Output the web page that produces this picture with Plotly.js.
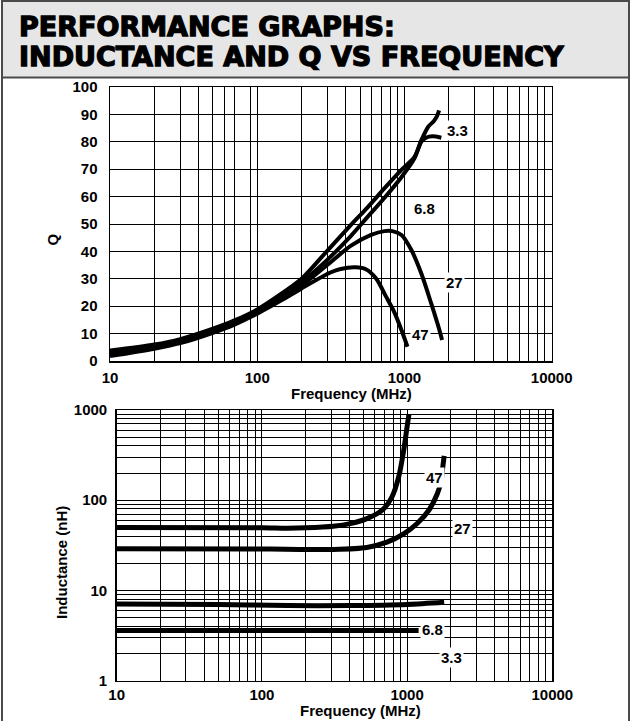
<!DOCTYPE html>
<html><head><meta charset="utf-8">
<script src="https://cdn.plot.ly/plotly-3.0.1.min.js"></script>
<style>html,body{margin:0;padding:0;background:#fff;overflow:hidden}#chart{width:631px;height:721px}</style>
</head><body><div id="chart"></div>
<script>
// ---------- Titles ----------
const titleLines = ["PERFORMANCE GRAPHS:", "INDUCTANCE AND Q VS FREQUENCY"];
const xTitle = "Frequency (MHz)";
const qTitle = "Q";
const lTitle = "Inductance (nH)";
const seriesNames = ["3.3", "6.8", "27", "47"];

// ---------- Q vs frequency (top chart) ----------
const qFreq_3_3 = [10, 20, 30, 50, 70, 100, 150, 200, 300, 430, 560, 730, 950, 1170, 1300, 1450, 1580, 1650, 1720];
const qVal_3_3  = [3.8, 6, 8, 11.8, 14.8, 18.8, 25, 30, 40.3, 49.5, 56, 63, 69.7, 74.5, 80.5, 85.5, 87.5, 89, 91.5];
const qFreq_6_8 = [10, 20, 30, 50, 70, 100, 150, 200, 300, 430, 560, 730, 950, 1170, 1300, 1400, 1550, 1780];
const qVal_6_8  = [3.2, 5.5, 7.5, 11.3, 14.3, 18.3, 24.2, 28.8, 37, 45.5, 52.5, 59.5, 67, 74, 80, 81.5, 82, 81.5];
const qFreq_27  = [10, 20, 30, 50, 70, 100, 150, 200, 314, 431, 593, 730, 828, 954, 1114, 1300, 1519, 1727, 1800];
const qVal_27   = [2.5, 5, 7, 10.8, 13.8, 17.8, 23.2, 27.5, 36, 42, 46, 47.4, 47.4, 46, 40.5, 32, 21, 11.3, 7.7];
const qFreq_47  = [10, 20, 30, 50, 70, 100, 150, 200, 314, 368, 466, 546, 640, 750, 860, 954, 1048];
const qVal_47   = [1.8, 4.5, 6.5, 10.3, 13.3, 17.3, 22.5, 26.5, 32.3, 33.6, 34.2, 33.5, 30.2, 23.5, 17.4, 11.3, 5.2];

// ---------- Inductance vs frequency (bottom chart) ----------
const lFreq_47  = [10, 100, 150, 200, 310, 405, 528, 671, 787, 875, 948, 1000, 1030];
const lVal_47   = [50, 49.5, 49, 49.5, 51.5, 55, 62.5, 77, 109, 181, 359, 653, 900];
const lFreq_27  = [10, 100, 182, 310, 528, 727, 947, 1173, 1411, 1614, 1720, 1750, 1800];
const lVal_27   = [29, 28.8, 28.5, 28.5, 30, 34.3, 42.3, 55.2, 77.4, 118, 167, 215, 310];
const lFreq_6_8 = [10, 50, 150, 400, 1000, 1800];
const lVal_6_8  = [7.1, 7.0, 6.8, 6.8, 7.0, 7.4];
const lFreq_3_3 = [10, 100, 500, 1200];
const lVal_3_3  = [3.6, 3.6, 3.6, 3.6];

// ---------- Grid / tick values ----------
const qGridFreq = [10,20,30,40,50,60,70,90,100,200,300,400,500,600,700,800,900,1000,2000,3000,4000,5000,6000,7000,8000,9000,10000];
const lGridFreq = [10,20,30,40,50,60,70,80,90,100,200,300,400,500,600,700,800,900,1000,2000,3000,4000,5000,6000,7000,8000,9000,10000];
const freqLabels = {10: "10", 100: "100", 1000: "1000", 10000: "10000"};
const qGridVals = [0,10,20,30,40,50,60,70,80,90,100];
const lGridVals = [1,2,3,4,5,6,7,8,9,10,20,30,40,50,60,70,80,90,100,200,300,400,500,600,700,800,900,1000];
const lLabels = {1: "1", 10: "10", 100: "100", 1000: "1000"};

// ---------- Layout helpers ----------
const W = 631, H = 721;
const px = x => x / W;
const py = y => 1 - y / H;
const FONT = "Liberation Sans, Arial, Helvetica, sans-serif";

function line(x, y, xa, ya, w) {
  return {x: x, y: y, xaxis: xa, yaxis: ya, type: "scatter", mode: "lines",
          line: {color: "#000", width: w, shape: "spline", smoothing: 0.8},
          hoverinfo: "skip", showlegend: false};
}

const traces = [
  line(qFreq_3_3, qVal_3_3, "x", "y", 4),
  line(qFreq_6_8, qVal_6_8, "x", "y", 4),
  line(qFreq_27, qVal_27, "x", "y", 4),
  line(qFreq_47, qVal_47, "x", "y", 4),
  line(lFreq_47, lVal_47, "x2", "y2", 5),
  line(lFreq_27, lVal_27, "x2", "y2", 5),
  line(lFreq_6_8, lVal_6_8, "x2", "y2", 5),
  line(lFreq_3_3, lVal_3_3, "x2", "y2", 5)
];

const tickFont = {family: FONT, size: 15, color: "#000", weight: "bold"};
const axisCommon = {
  showgrid: true, gridcolor: "#000", gridwidth: 1,
  showline: true, linecolor: "#000", linewidth: 1.5, mirror: true,
  ticks: "", zeroline: false, tickfont: tickFont, fixedrange: true
};

const annFont = {family: FONT, size: 15, color: "#000", weight: "bold"};
function lab(text, x, y, bg) {
  return {text: text, xref: "paper", yref: "paper", x: px(x), y: py(y),
          xanchor: "center", yanchor: "middle", showarrow: false,
          font: annFont, bgcolor: bg ? "#fff" : "rgba(0,0,0,0)", borderpad: bg ? 1 : 0};
}
function heavy(t) {
  return '<span style="stroke:#000;stroke-width:1.3px;paint-order:stroke">' + t + '</span>';
}

const annotations = [
  {text: heavy(titleLines[0]), xref: "paper", yref: "paper", x: px(17), y: py(27), xanchor: "left", yanchor: "middle",
   showarrow: false, font: {family: "DejaVu Sans", size: 27, color: "#000", weight: "bold"}},
  {text: heavy(titleLines[1]), xref: "paper", yref: "paper", x: px(17), y: py(57), xanchor: "left", yanchor: "middle",
   showarrow: false, font: {family: "DejaVu Sans", size: 27, color: "#000", weight: "bold"}},
  lab(xTitle, 351.5, 393.5, false),
  lab(xTitle, 360, 710.5, false),
  Object.assign(lab(qTitle, 51.5, 240, false), {textangle: -90}),
  Object.assign(lab(lTitle, 61.5, 562.5, false), {textangle: -90}),
  // top chart series labels
  lab(seriesNames[0], 457.5, 130, true),
  lab(seriesNames[1], 424.5, 208.5, true),
  lab(seriesNames[2], 454.5, 282.5, true),
  lab(seriesNames[3], 420.5, 334, true),
  // bottom chart series labels
  lab(seriesNames[3], 435, 477.5, true),
  lab(seriesNames[2], 462.5, 528.5, true),
  lab(seriesNames[1], 432.5, 629, true),
  lab(seriesNames[0], 451.5, 657.5, true)
];

const shapes = [
  {type: "rect", xref: "paper", yref: "paper", x0: px(2), x1: px(629), y0: py(77.5), y1: py(1),
   fillcolor: "#e6e6e6", line: {color: "#4a4a4a", width: 2}, layer: "below"},
  {type: "line", xref: "paper", yref: "paper", x0: px(2), x1: px(2), y0: py(77), y1: py(721),
   line: {color: "#4a4a4a", width: 2}},
  {type: "line", xref: "paper", yref: "paper", x0: px(629), x1: px(629), y0: py(77), y1: py(721),
   line: {color: "#4a4a4a", width: 2}}
];

const layout = {
  width: W, height: H,
  margin: {l: 0, r: 0, t: 0, b: 0, pad: 0},
  paper_bgcolor: "#fff", plot_bgcolor: "#fff",
  showlegend: false,
  font: {family: FONT, color: "#000"},
  xaxis: Object.assign({}, axisCommon, {
    type: "log", range: [1, 4], domain: [px(110), px(551.7)], anchor: "y",
    tickmode: "array", tickvals: qGridFreq, ticktext: qGridFreq.map(v => freqLabels[v] || ""),
    ticklabelstandoff: 2
  }),
  yaxis: Object.assign({}, axisCommon, {
    range: [0, 100], domain: [py(361), py(87)], anchor: "x",
    tickmode: "array", tickvals: qGridVals, ticktext: qGridVals.map(String),
    ticklabelstandoff: 8
  }),
  xaxis2: Object.assign({}, axisCommon, {
    type: "log", range: [1, 4], domain: [px(116.7), px(552.3)], anchor: "y2",
    tickmode: "array", tickvals: lGridFreq, ticktext: lGridFreq.map(v => freqLabels[v] || ""),
    ticklabelstandoff: 0
  }),
  yaxis2: Object.assign({}, axisCommon, {
    type: "log", range: [0, 3], domain: [py(680.7), py(410)], anchor: "x2",
    tickmode: "array", tickvals: lGridVals, ticktext: lGridVals.map(v => lLabels[v] || ""),
    ticklabelstandoff: 5
  }),
  annotations: annotations,
  shapes: shapes
};

Plotly.newPlot("chart", traces, layout, {staticPlot: true, displayModeBar: false});
</script></body></html>
